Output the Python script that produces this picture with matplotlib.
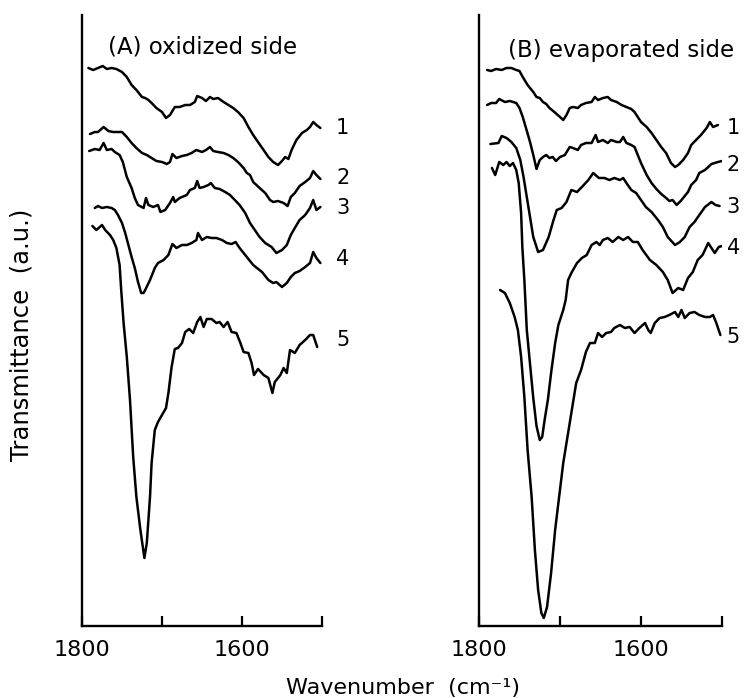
import matplotlib
matplotlib.use("Agg")
import matplotlib.pyplot as plt

plt.rcParams['font.family'] = ['DejaVu Sans']

# ---------------- data (wavenumber in cm-1, transmittance in a.u.) ----------------
a1_wn = [1792,1786,1780,1774,1769,1763,1757,1750,1744,1738,1732,1725,1721,1717,1713,1707,1700,1695,1690,1684,
         1678,1671,1665,1659,1656,1650,1645,1640,1636,1630,1623,1617,1611,1605,1598,1592,1586,1580,1573,1567,
         1561,1555,1550,1546,1542,1538,1532,1525,1519,1515,1511,1507,1502]
a1_t = [558,556,558,560,557,558,557,554,549,541,536,529,528,526,523,518,514,508,511,519,
        519,521,521,524,530,528,525,529,527,528,524,521,518,514,508,499,491,484,476,469,
        464,461,465,469,467,476,486,493,496,499,504,501,498]

a2_wn = [1790,1784,1780,1773,1767,1761,1755,1750,1744,1738,1732,1725,1719,1713,1707,1700,1694,1690,1687,1682,
         1675,1669,1663,1657,1650,1645,1640,1636,1630,1623,1617,1611,1605,1598,1594,1590,1586,1578,1571,1565,
         1561,1555,1548,1543,1539,1534,1528,1521,1515,1511,1507,1502]
a2_t = [492,494,494,499,495,494,494,494,489,483,478,473,471,468,465,464,462,464,472,468,
        470,471,473,476,474,476,479,475,474,473,471,468,464,458,453,451,444,438,433,426,
        424,425,423,420,429,433,440,444,448,455,451,447]

a3_wn = [1791,1784,1778,1773,1769,1763,1759,1753,1749,1744,1738,1734,1730,1723,1720,1717,1711,1705,1702,1696,
         1690,1686,1684,1678,1669,1665,1659,1656,1653,1648,1642,1639,1634,1628,1621,1615,1609,1603,1596,1590,
         1584,1578,1571,1563,1557,1550,1544,1539,1534,1528,1521,1515,1511,1507,1502]
a3_t = [475,477,476,483,476,477,474,471,464,449,438,428,421,418,428,421,419,421,414,416,
        423,429,424,428,431,436,438,445,438,439,441,443,438,437,434,431,426,421,413,403,
        396,389,383,379,373,376,381,391,398,406,411,418,426,416,419]

a4_wn = [1784,1780,1775,1769,1763,1759,1755,1750,1746,1742,1738,1734,1730,1726,1723,1721,1715,1709,1705,1698,
         1692,1687,1682,1675,1669,1663,1657,1655,1650,1644,1638,1632,1625,1619,1613,1608,1603,1594,1586,1575,
         1567,1561,1557,1550,1544,1539,1534,1528,1521,1515,1511,1507,1502]
a4_t = [418,420,418,419,418,416,411,403,393,381,369,358,344,333,333,336,346,358,363,366,
        371,382,378,381,381,383,386,393,386,389,388,388,386,383,382,384,378,369,361,354,
        346,343,344,339,343,349,353,355,359,363,374,368,363]

a5_wn = [1787,1782,1775,1771,1765,1761,1757,1753,1751,1748,1744,1740,1736,1732,1727,1722,1719,1715,1713,1709,
         1705,1700,1695,1692,1688,1684,1680,1675,1671,1666,1661,1656,1652,1648,1644,1638,1632,1628,1623,1618,
         1613,1607,1602,1598,1592,1588,1585,1580,1573,1567,1562,1559,1552,1548,1544,1540,1534,1528,1521,1515,
         1511,1506]
a5_t = [400,396,401,396,391,386,378,361,336,303,269,226,169,129,96,68,83,129,163,196,
        204,211,218,233,259,277,278,283,294,297,293,304,309,299,307,307,303,304,299,304,
        294,293,283,274,273,263,251,257,251,248,233,244,251,258,253,276,273,281,286,291,
        291,279]

b1_wn = [1790,1785,1779,1772,1766,1760,1754,1750,1746,1740,1733,1729,1725,1721,1717,1713,1707,1700,1696,1692,
         1688,1684,1678,1674,1668,1661,1657,1653,1647,1641,1637,1630,1624,1618,1612,1608,1604,1600,1593,1587,
         1581,1575,1569,1563,1558,1554,1548,1542,1538,1532,1526,1519,1515,1511,1505]
b1_t = [556,555,557,556,558,558,556,555,549,541,534,529,528,524,522,518,514,509,506,511,
        518,519,518,521,523,524,529,526,528,529,526,524,521,519,517,514,509,504,499,493,
        486,479,473,463,459,461,466,473,481,486,491,498,504,499,501]

b2_wn = [1790,1785,1779,1775,1768,1762,1758,1754,1750,1746,1742,1737,1733,1729,1725,1721,1717,1713,1709,1705,
         1700,1694,1688,1684,1678,1674,1668,1661,1656,1653,1647,1641,1637,1630,1626,1622,1618,1612,1608,1604,
         1600,1593,1587,1581,1575,1569,1565,1561,1556,1551,1546,1542,1538,1532,1528,1521,1517,1513,1505,1500]
b2_t = [521,523,523,527,524,525,524,523,518,509,498,484,471,457,466,469,471,468,469,465,
        469,471,479,478,476,481,483,483,491,484,486,483,486,484,484,489,483,481,479,471,
        463,451,443,437,432,428,425,426,421,425,430,434,441,446,453,456,459,462,464,465]

b3_wn = [1786,1776,1772,1766,1760,1754,1749,1745,1741,1737,1733,1727,1721,1714,1708,1704,1698,1692,1686,1679,
         1673,1665,1659,1652,1645,1639,1633,1626,1622,1618,1612,1606,1600,1594,1587,1579,1573,1567,1558,1552,
         1546,1540,1534,1528,1521,1513,1508,1503]
b3_t = [482,483,490,488,484,478,466,449,429,409,389,374,376,389,406,416,418,424,436,434,
        439,446,453,448,448,446,448,446,448,443,436,433,426,419,414,406,399,389,381,384,
        389,399,404,411,419,424,421,420]

b4_wn = [1784,1780,1775,1770,1766,1762,1758,1754,1751,1748,1746.5,1744,1741,1737,1733,1729,1725,1722,1719,1715,
         1711,1706,1702,1696,1693,1690,1686,1679,1673,1667,1661,1655,1651,1647,1641,1635,1628,1622,1616,1610,
         1604,1598,1589,1581,1573,1567,1561,1554,1548,1542,1536,1530,1524,1517,1513,1509,1504,1500]
b4_t = [458,451,464,461,464,460,463,456,443,413,379,346,296,262,228,200,186,189,206,226,
        253,283,301,316,326,346,353,363,368,371,381,384,381,386,388,384,389,386,389,384,
        384,376,366,361,354,346,333,338,336,348,354,366,371,383,378,373,379,380]

b5_wn = [1774,1768,1762,1756,1752,1748,1744,1740,1735,1731,1727,1723,1720,1716,1711,1706,1702,1696,1690,1684,
         1680,1674,1668,1663,1657,1653,1648,1643,1637,1633,1626,1620,1614,1608,1602,1595,1591,1588,1583,1577,
         1571,1565,1558,1554,1550,1546,1540,1534,1528,1521,1515,1511,1507,1502]
b5_t = [336,333,323,309,296,269,229,176,129,76,36,13,8,19,53,96,123,163,193,223,
        243,256,274,283,283,293,289,293,294,298,301,298,299,293,298,303,296,293,303,308,
        309,311,314,309,316,308,313,314,311,309,309,311,303,291]

curve_labels = ['1', '2', '3', '4', '5']
panel_titles = ['(A) oxidized side', '(B) evaporated side']
tick_values = [1800, 1700, 1600, 1500]
tick_labels = ['1800', '', '1600', '']

panels = [
    [(a1_wn, a1_t), (a2_wn, a2_t), (a3_wn, a3_t), (a4_wn, a4_t), (a5_wn, a5_t)],
    [(b1_wn, b1_t), (b2_wn, b2_t), (b3_wn, b3_t), (b4_wn, b4_t), (b5_wn, b5_t)],
]
label_heights = [[498, 448, 418, 367, 286], [498, 461, 419, 378, 289]]
label_x = [1474, 1486]
title_pos = [(1767, 579), (1764, 576)]

# ---------------- figure ----------------
W, H = 751, 698
fig = plt.figure(figsize=(W / 100, H / 100), dpi=100)
ax_boxes = [
    [82 / W, 1 - 626 / H, (322 - 82) / W, (626 - 15) / H],
    [479 / W, 1 - 626 / H, (722 - 479) / W, (626 - 15) / H],
]

for i, box in enumerate(ax_boxes):
    ax = fig.add_axes(box)
    for (wn, t) in panels[i]:
        ax.plot(wn, t, color='black', lw=1.8, solid_joinstyle='round', solid_capstyle='round')
    ax.set_xlim(1800, 1500)
    ax.set_ylim(0, 611)
    ax.spines['top'].set_visible(False)
    ax.spines['right'].set_visible(False)
    ax.spines['left'].set_linewidth(1.7)
    ax.spines['bottom'].set_linewidth(1.7)
    ax.set_yticks([])
    ax.set_xticks(tick_values)
    ax.set_xticklabels(tick_labels)
    ax.tick_params(axis='x', direction='in', length=7.5, width=1.6, pad=10, labelsize=16)
    for lab, h in zip(curve_labels, label_heights[i]):
        ax.text(label_x[i], h, lab, fontsize=15, ha='center', va='center', clip_on=False)
    ax.text(title_pos[i][0], title_pos[i][1], panel_titles[i], fontsize=16.5,
            ha='left', va='center', clip_on=False)

fig.text(22 / W, 1 - 335 / H, 'Transmittance  (a.u.)', rotation=90, fontsize=17.5,
         ha='center', va='center')
fig.text(403 / W, 1 - 688 / H, 'Wavenumber  (cm\u207b\u00b9)', fontsize=16,
         ha='center', va='center')

fig.savefig('out.png', dpi=100, facecolor='white')
